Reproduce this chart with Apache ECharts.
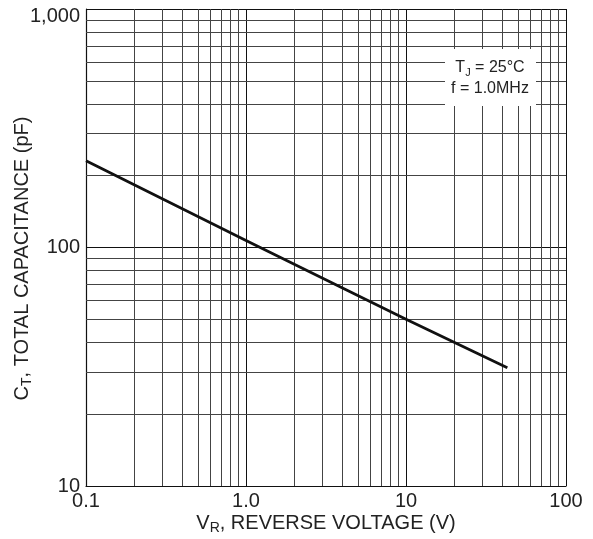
<!DOCTYPE html>
<html>
<head>
<meta charset="utf-8">
<script src="https://cdn.jsdelivr.net/npm/echarts@6/dist/echarts.min.js"></script>
<style>
  html, body { margin: 0; padding: 0; background: #fff; }
  #chart { width: 593px; height: 539px; }
</style>
</head>
<body>
<div id="chart"></div>
<script>
// Data
const voltage = [0.1, 1.0, 10, 43];
const capacitance = [231, 107, 50, 31.3];
const xTickLabels = ['0.1', '1.0', '10', '100'];
const yTickLabels = ['10', '100', '1,000'];
const xMinorGrid = [0.2, 0.3, 0.4, 0.5, 0.6, 0.7, 0.8, 0.9, 2, 3, 4, 5, 6, 7, 8, 9, 20, 30, 40, 50, 60, 70, 80, 90];
const yMinorGrid = [20, 30, 40, 50, 60, 70, 80, 90, 200, 300, 400, 500, 600, 700, 800, 900];

const FONT = '"Liberation Sans", Arial, sans-serif';
const chart = echarts.init(document.getElementById('chart'), null, { renderer: 'canvas' });

const gridLines = [];
xMinorGrid.forEach(v => gridLines.push({ xAxis: v }));
yMinorGrid.forEach(v => gridLines.push({ yAxis: v }));

chart.setOption({
  animation: false,
  backgroundColor: '#fff',
  grid: { left: 86, right: 27, top: 9, bottom: 53, containLabel: false, outerBoundsMode: 'none' },
  xAxis: {
    type: 'log', logBase: 10, min: 0.1, max: 100,
    name: '{a|V}{s|R}{a|, REVERSE VOLTAGE (V)}',
    nameLocation: 'middle', nameGap: 25, nameMoveOverlap: false,
    nameTextStyle: {
      rich: {
        a: { fontFamily: FONT, fontSize: 20, color: '#222', lineHeight: 24 },
        s: { fontFamily: FONT, fontSize: 14, color: '#222', lineHeight: 14, verticalAlign: 'bottom' }
      }
    },
    axisLine: { show: true, lineStyle: { color: '#111', width: 1.2 } },
    axisTick: { show: false },
    axisLabel: {
      margin: 5, fontFamily: FONT, fontSize: 20, color: '#222',
      formatter: v => xTickLabels[Math.round(Math.log10(v)) + 1]
    },
    splitLine: { show: true, lineStyle: { color: '#111', width: 1 } },
    minorSplitLine: { show: false }
  },
  yAxis: {
    type: 'log', logBase: 10, min: 10, max: 1000,
    name: '{a|C}{s|T}{a|, TOTAL CAPACITANCE (pF)}{g|}',
    nameLocation: 'middle', nameGap: 52, nameRotate: 90, nameMoveOverlap: false,
    nameTextStyle: {
      rich: {
        a: { fontFamily: FONT, fontSize: 20, color: '#222', lineHeight: 24 },
        s: { fontFamily: FONT, fontSize: 14, color: '#222', lineHeight: 14, verticalAlign: 'bottom' },
        g: { width: 22, lineHeight: 24 }
      }
    },
    axisLine: { show: true, lineStyle: { color: '#111', width: 1.2 } },
    axisTick: { show: false },
    axisLabel: {
      margin: 6, fontFamily: FONT, fontSize: 20, color: '#222',
      formatter: v => {
        const i = Math.round(Math.log10(v)) - 1;
        return i === yTickLabels.length - 1 ? '{top|' + yTickLabels[i] + '}' : yTickLabels[i];
      },
      rich: {
        top: { fontFamily: FONT, fontSize: 20, color: '#222', padding: [14, 0, 0, 0] }
      }
    },
    splitLine: { show: true, lineStyle: { color: '#111', width: 1 } }
  },
  series: [
    {
      type: 'line',
      data: [],
      silent: true,
      markLine: {
        silent: true,
        symbol: 'none',
        label: { show: false },
        lineStyle: { color: '#444', width: 1, type: 'solid' },
        emphasis: { disabled: true },
        data: gridLines
      },
      z: 1
    },
    {
      type: 'line',
      data: voltage.map((v, i) => [v, capacitance[i]]),
      showSymbol: false,
      symbol: 'none',
      lineStyle: { color: '#111', width: 2.8 },
      z: 5
    }
  ],
  graphic: [
    {
      type: 'rect', left: 445, top: 49, z: 100,
      shape: { width: 91, height: 57 },
      style: { fill: '#fff' }
    },
    {
      type: 'text', x: 490, y: 68, z: 101,
      style: {
        text: '{a|T}{s|J}{a| = 25°C}',
        align: 'center', verticalAlign: 'middle',
        rich: {
          a: { fontFamily: FONT, fontSize: 16, fill: '#222', lineHeight: 20 },
          s: { fontFamily: FONT, fontSize: 11, fill: '#222', lineHeight: 10, verticalAlign: 'bottom' }
        }
      }
    },
    {
      type: 'text', x: 490, y: 89, z: 101,
      style: {
        text: 'f = 1.0MHz',
        align: 'center', verticalAlign: 'middle',
        fontFamily: FONT, fontSize: 16, fill: '#222'
      }
    }
  ]
});
</script>
</body>
</html>
